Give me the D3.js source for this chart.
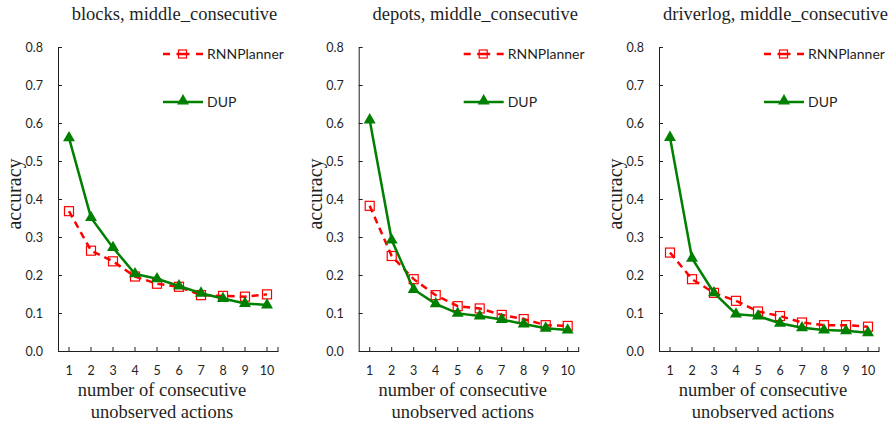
<!DOCTYPE html>
<html>
<head>
<meta charset="utf-8">
<script src="https://cdn.jsdelivr.net/npm/d3@7"></script>
<style>
  html, body { margin: 0; padding: 0; background: #fff; }
  svg { display: block; }
  .serif { font-family: "Liberation Serif", "Times New Roman", Times, "DejaVu Serif", serif; }
  .sans { font-family: Lato, "Noto Sans", sans-serif; }
</style>
</head>
<body>
<svg id="chart" width="893" height="428"></svg>
<script>
// ---- data ----
const categories = ["1","2","3","4","5","6","7","8","9","10"];
const yTickValues = [0, 0.1, 0.2, 0.3, 0.4, 0.5, 0.6, 0.7, 0.8];
const panelTitles = ["blocks, middle_consecutive", "depots, middle_consecutive", "driverlog, middle_consecutive"];
const seriesNames = ["RNNPlanner", "DUP"];

const rnnBlocks    = [0.368, 0.264, 0.236, 0.196, 0.177, 0.169, 0.147, 0.145, 0.143, 0.149];
const dupBlocks    = [0.561, 0.351, 0.272, 0.203, 0.190, 0.171, 0.152, 0.138, 0.125, 0.121];
const rnnDepots    = [0.382, 0.250, 0.189, 0.147, 0.118, 0.112, 0.095, 0.084, 0.068, 0.066];
const dupDepots    = [0.608, 0.292, 0.162, 0.124, 0.099, 0.092, 0.083, 0.071, 0.060, 0.055];
const rnnDriverlog = [0.259, 0.189, 0.153, 0.132, 0.104, 0.092, 0.075, 0.068, 0.068, 0.064];
const dupDriverlog = [0.562, 0.244, 0.153, 0.097, 0.092, 0.073, 0.061, 0.055, 0.053, 0.048];

const panels = [
  { title: panelTitles[0], rnn: rnnBlocks,    dup: dupBlocks },
  { title: panelTitles[1], rnn: rnnDepots,    dup: dupDepots },
  { title: panelTitles[2], rnn: rnnDriverlog, dup: dupDriverlog }
];

// ---- layout ----
const svg = d3.select("#chart");
const panelX = [58, 358.7, 659];
const plotTop = 47, plotH = 304, plotW = 220;
const RED = "#ff0000", GREEN = "#008000", INK = "#1f1f1f";

const x = d3.scaleBand().domain(categories).range([0, plotW]);
const y = d3.scaleLinear().domain([0, 0.8]).range([plotH, 0]);
const cx = c => x(c) + x.bandwidth() / 2;

const tri = d3.symbol().type(d3.symbolTriangle).size(62);

panels.forEach((p, i) => {
  const g = svg.append("g").attr("transform", `translate(${panelX[i]},${plotTop})`);

  // title
  g.append("text").attr("class", "serif")
    .attr("x", 116.5).attr("y", -27)
    .attr("text-anchor", "middle")
    .style("font-size", "18.5px").style("fill", INK)
    .text(p.title);

  // y axis
  const ya = g.append("g")
    .call(d3.axisLeft(y).tickValues(yTickValues).tickFormat(d3.format(".1f"))
      .tickSizeInner(-4).tickSizeOuter(0).tickPadding(15));
  ya.attr("font-family", null);
  ya.selectAll("text").attr("class", "sans").style("font-size", "12.5px").style("fill", INK);
  ya.selectAll("line, path").attr("stroke", INK);

  // x axis
  const xa = g.append("g").attr("transform", `translate(0,${plotH})`)
    .call(d3.axisBottom(x).tickSizeInner(-4).tickSizeOuter(0).tickPadding(15));
  xa.attr("font-family", null);
  xa.selectAll("text").attr("class", "sans").style("font-size", "12.5px").style("fill", INK);
  xa.selectAll("line, path").attr("stroke", INK);
  xa.append("line").attr("x1", plotW).attr("x2", plotW).attr("y1", 0).attr("y2", -4).attr("stroke", INK);

  // axis titles
  g.append("text").attr("class", "serif")
    .attr("transform", `translate(${-37},${147}) rotate(-90)`)
    .attr("text-anchor", "middle")
    .style("font-size", "20px").style("fill", INK)
    .text("accuracy");
  const xt = g.append("text").attr("class", "serif")
    .attr("text-anchor", "middle")
    .style("font-size", "18.5px").style("fill", INK);
  xt.append("tspan").attr("x", 104).attr("y", 349).text("number of consecutive");
  xt.append("tspan").attr("x", 104).attr("y", 371).text("unobserved actions");

  // RNNPlanner series
  const line = d3.line().x((d, j) => cx(categories[j])).y(d => y(d));
  g.append("path").datum(p.rnn)
    .attr("d", line).attr("fill", "none")
    .attr("stroke", RED).attr("stroke-width", 2.5).attr("stroke-dasharray", "7,5");
  g.selectAll(".sq").data(p.rnn).enter().append("rect")
    .attr("x", (d, j) => cx(categories[j]) - 4.5)
    .attr("y", d => y(d) - 4.5)
    .attr("width", 9).attr("height", 9)
    .attr("fill", "none").attr("stroke", RED).attr("stroke-width", 1.2);

  // DUP series
  g.append("path").datum(p.dup)
    .attr("d", line).attr("fill", "none")
    .attr("stroke", GREEN).attr("stroke-width", 2.5);
  g.selectAll(".tri").data(p.dup).enter().append("path")
    .attr("d", tri)
    .attr("transform", (d, j) => `translate(${cx(categories[j])},${y(d)})`)
    .attr("fill", GREEN);

  // legend
  const lg = g.append("g").attr("transform", "translate(105,0)");
  lg.append("line").attr("x1", 0).attr("x2", 40).attr("y1", 7).attr("y2", 7)
    .attr("stroke", RED).attr("stroke-width", 2.5).attr("stroke-dasharray", "7,6.5,13,6.5,7");
  lg.append("rect").attr("x", 15.5).attr("y", 3).attr("width", 8).attr("height", 8)
    .attr("fill", "none").attr("stroke", RED).attr("stroke-width", 1.2);
  lg.append("text").attr("class", "sans").attr("x", 44).attr("y", 12)
    .style("font-size", "14px").style("fill", INK)
    .text(seriesNames[0]);
  lg.append("line").attr("x1", 0).attr("x2", 40).attr("y1", 55).attr("y2", 55)
    .attr("stroke", GREEN).attr("stroke-width", 2.5);
  lg.append("path").attr("d", tri).attr("transform", "translate(20,54)").attr("fill", GREEN);
  lg.append("text").attr("class", "sans").attr("x", 44).attr("y", 60)
    .style("font-size", "14px").style("fill", INK)
    .text(seriesNames[1]);
});
</script>
</body>
</html>
